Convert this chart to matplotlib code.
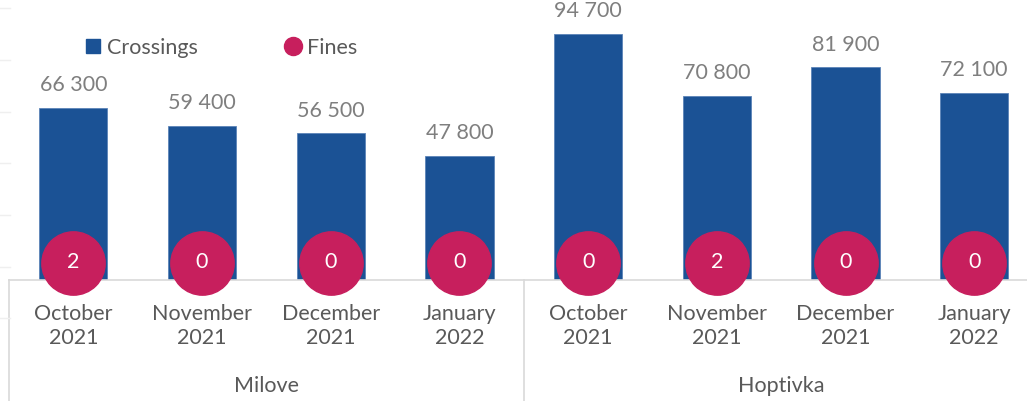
import matplotlib.pyplot as plt
import matplotlib.transforms as mtransforms
from matplotlib.lines import Line2D

# data
months = ["October\n2021", "November\n2021", "December\n2021", "January\n2022"]
sites = ["Milove", "Hoptivka"]
crossings = [66300, 59400, 56500, 47800, 94700, 70800, 81900, 72100]
fines = [2, 0, 0, 0, 0, 2, 0, 0]

bar_color = "#1B5295"
fine_color = "#C71F5D"
grid_gray = "#D9D9D9"

plt.rcParams["font.family"] = ["Lato", "DejaVu Sans"]

fig = plt.figure(figsize=(10.27, 4.01), dpi=100)
ax = fig.add_axes([9 / 1027, 121 / 401, 1018 / 1027, 280 / 401])

x = list(range(len(crossings)))
ax.bar(x, crossings, width=0.53, color=bar_color, edgecolor="#5B84B8", linewidth=0.6, zorder=2)
ax.set_xlim(-0.5, -0.5 + 1018 / 128.7)
ax.set_ylim(0, 280 * 94700 / 246)

# value labels above bars
for xi, v in zip(x, crossings):
    ax.annotate(f"{v:,}".replace(",", " "), (xi, v), xytext=(0, 12), textcoords="offset points",
                ha="center", va="baseline", fontsize=15.5, color="#7F7F7F")

# fines circles at the foot of each bar
trans = mtransforms.blended_transform_factory(ax.transData, ax.transAxes)
ax.scatter(x, [0.0625] * len(x), s=2080, color=fine_color, transform=trans, zorder=3, clip_on=False)
for xi, f in zip(x, fines):
    ax.text(xi, 0.0625, str(f), transform=trans, ha="center", va="center",
            fontsize=15.5, color="white", zorder=4)

# axes styling
for side in ["top", "right", "left"]:
    ax.spines[side].set_visible(False)
ax.spines["bottom"].set_color(grid_gray)
ax.spines["bottom"].set_linewidth(1.2)
ax.set_yticks([])
ax.set_xticks(x)
ax.set_xticklabels(months * 2, fontsize=15.5, color="#595959", linespacing=1.25)
ax.tick_params(axis="x", length=0, pad=17)

# group labels and separators
for gi, name in enumerate(sites):
    ax.text(gi * 4 + 1.5, -0.38, name, transform=trans, ha="center", va="center",
            fontsize=15.5, color="#595959")
for sx in [-0.5, 3.5]:
    ax.plot([sx, sx], [0, -0.44], transform=trans, color=grid_gray, linewidth=1.2, clip_on=False)

# faint gridline stubs at the left edge
for py in [8, 60, 112, 163, 215, 267, 318]:
    fig.add_artist(Line2D([0, 10 / 1027], [1 - py / 401] * 2, color="#EFEFEF", linewidth=1))

# legend
handles = [
    Line2D([], [], marker="s", linestyle="none", markersize=9.5, color=bar_color),
    Line2D([], [], marker="o", linestyle="none", markersize=13, color=fine_color),
]
fig.legend(handles, ["Crossings", "Fines"], loc="center left", bbox_to_anchor=(61 / 1027, 1 - 48 / 401),
           ncol=2, frameon=False, fontsize=15.5, labelcolor="#595959", handletextpad=0.05,
           columnspacing=3.8, handlelength=1.2)

fig.savefig("out.png", dpi=100)
